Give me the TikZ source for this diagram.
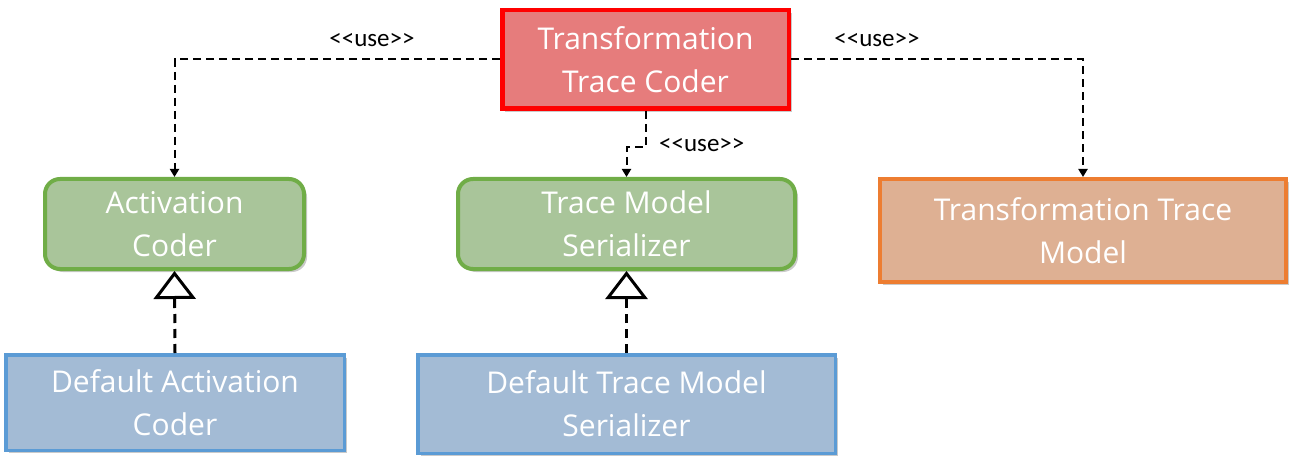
\documentclass[tikz,border=0pt]{standalone}
\usepackage{fontspec}
\setmainfont{Open Sans}
\newfontfamily\lblfont{Carlito}
\usetikzlibrary{arrows.meta,shadows,calc}
\definecolor{redfill}{HTML}{E67C7C}
\definecolor{redline}{HTML}{FF0000}
\definecolor{greenfill}{HTML}{A9C59A}
\definecolor{greenline}{HTML}{70AD47}
\definecolor{orangefill}{HTML}{DEB093}
\definecolor{orangeline}{HTML}{ED7D31}
\definecolor{bluefill}{HTML}{A3BBD5}
\definecolor{blueline}{HTML}{5B9BD5}
\tikzset{
  box/.style={inner sep=0pt, align=center, text=white,
    font=\fontsize{30}{43}\selectfont,
    drop shadow={shadow xshift=3pt, shadow yshift=-3pt, opacity=0.35, fill=black!60}},
  redbox/.style={box, fill=redfill, draw=redline, line width=4.5pt},
  greenbox/.style={box, fill=greenfill, draw=greenline, line width=4pt, rounded corners=15pt},
  orangebox/.style={box, fill=orangefill, draw=orangeline, line width=4pt},
  bluebox/.style={box, fill=bluefill, draw=blueline, line width=3.5pt},
  uses/.style={line width=2pt, dash pattern=on 8pt off 5pt, -{Triangle[length=8pt,width=9pt]}},
  realizes/.style={line width=3pt, dash pattern=on 9pt off 6pt, -{Triangle[open,length=28pt,width=42pt]}},
  lbl/.style={font=\lblfont\fontsize{25}{30}\selectfont, text=black, inner sep=0pt}
}
\begin{document}
\begin{tikzpicture}[x=1pt,y=-1pt]
\useasboundingbox (0,0) rectangle (1299,476);
\node[redbox, minimum width=286.5pt, minimum height=98.5pt] (ttc) at (645.5,59.5) {Transformation\\Trace Coder};
\node[greenbox, minimum width=259pt, minimum height=90pt] (ac) at (174.5,224) {Activation\\Coder};
\node[greenbox, minimum width=337pt, minimum height=90pt] (tms) at (626.5,224) {Trace Model\\Serializer};
\node[orangebox, minimum width=406pt, minimum height=103pt] (ttm) at (1083,230.5) {Transformation Trace\\Model};
\node[bluebox, minimum width=338.5pt, minimum height=95.5pt] (dac) at (175,402.5) {Default Activation\\Coder};
\node[bluebox, minimum width=417.5pt, minimum height=98.5pt] (dtms) at (626.5,404) {Default Trace Model\\Serializer};
\draw[uses] (ttc.west) -| (ac.north);
\draw[uses] (ttc.east) -| (ttm.north);
\coordinate (bend) at ($(ttc.south)+(0,36)$);
\draw[uses] (ttc.south) -- (bend) -| (tms.north);
\draw[realizes] (dac.north) -- (ac.south);
\draw[realizes] (dtms.north) -- (tms.south);
\node[lbl] (l1) at (372,40) {{<}{<}use{>}{>}};
\node[lbl] (l2) at (877,40) {{<}{<}use{>}{>}};
\node[lbl, anchor=west] (l3) at (659,145) {{<}{<}use{>}{>}};
\end{tikzpicture}
\end{document}
